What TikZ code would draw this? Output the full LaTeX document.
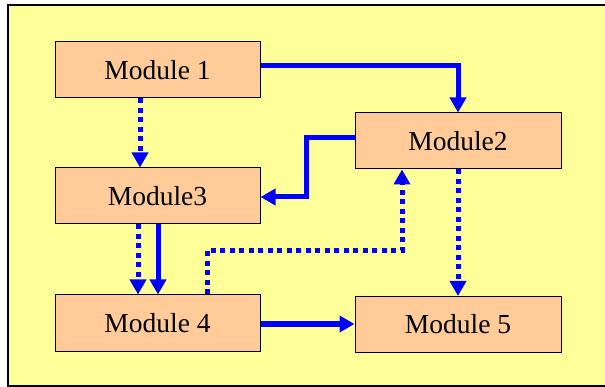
\documentclass[tikz,border=0pt]{standalone}
\usepackage{fontspec}
\setmainfont{Liberation Serif}
\newfontfamily\labelfont{Liberation Serif}
\usetikzlibrary{arrows.meta}
\definecolor{panel}{RGB}{255,255,153}
\definecolor{peach}{RGB}{255,204,153}
\definecolor{flow}{RGB}{0,0,255}
\tikzset{
  module/.style={draw=black, line width=1pt, fill=peach, minimum height=56pt,
    inner sep=0pt, font=\labelfont\fontsize{27.5}{32}\selectfont},
  link/.style={draw=flow, line width=5pt, -{Triangle[length=15pt,width=16pt]}},
  weaklink/.style={link, dash pattern=on 5pt off 4.5pt}
}
\begin{document}
\begin{tikzpicture}[x=1pt, y=-1pt]
  \useasboundingbox (0,0) rectangle (605,387);
  \clip (0,0) rectangle (605,387);
  % panel behind the modules (its right edge runs off the page)
  \draw[fill=panel, line width=1.5pt] (8,5) rectangle (620,386);

  \node[module, minimum width=205pt] (m1) at (157.5,70)  {Module 1};
  \node[module, minimum width=205pt] (m3) at (157.5,196) {Module3};
  \node[module, minimum width=205pt] (m4) at (157.5,323) {Module 4};
  \node[module, minimum width=206pt] (m2) at (458,141)   {Module2};
  \node[module, minimum width=206pt] (m5) at (458,324.5) {Module 5};

  % solid connectors
  \draw[link] ([yshift=4pt]m1.east) -| (m2.north);
  \draw[link] ([yshift=3pt]m2.west) -- ++(-48,0) |- ([yshift=-1pt]m3.east);
  \draw[link] ([xshift=0.5pt]m3.south) -- ([xshift=0.5pt]m4.north);
  \draw[link] ([yshift=-1pt]m4.east) -- ([yshift=-1pt]m4.east -| m5.west);

  % dotted connectors
  \draw[weaklink] ([xshift=-17.5pt]m1.south) -- ([xshift=-17.5pt]m3.north);
  \draw[weaklink] ([xshift=-19.5pt]m3.south) -- ([xshift=-19.5pt]m4.north);
  \draw[weaklink] ([xshift=49.5pt]m4.north) -- ++(0,-44) -| ([xshift=-56pt]m2.south);
  \draw[weaklink] (m2.south) -- (m5.north);
\end{tikzpicture}
\end{document}
